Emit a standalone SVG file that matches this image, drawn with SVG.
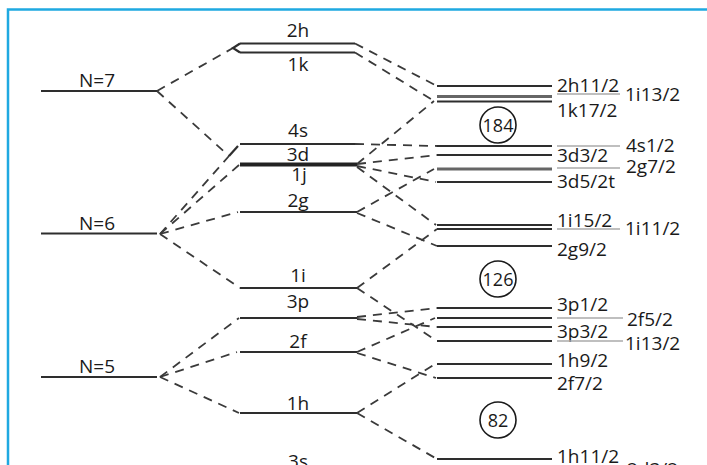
<svg xmlns="http://www.w3.org/2000/svg" width="707" height="465" viewBox="0 0 707 465">
<style>
  .lv{stroke:#2e2e2e;stroke-width:2.2;fill:none}
  .lvt{stroke:#222;stroke-width:3.8;fill:none}
  .lvg{stroke:#666;stroke-width:2.8;fill:none}
  .gr{stroke:#aaa;stroke-width:1.6;fill:none}
  .dash{stroke:#3a3a3a;stroke-width:1.8;stroke-dasharray:9 7;fill:none}
  text{font-family:"Open Sans","Liberation Sans",sans-serif;font-size:19px;fill:#1a1a1a}
  .c{text-anchor:middle}
  .circ{fill:none;stroke:#1a1a1a;stroke-width:1.6}
  .ct{font-size:18px;text-anchor:middle}
</style>
<rect x="0" y="0" width="707" height="465" fill="#fff"/>
<rect x="8" y="9.5" width="720" height="500" fill="none" stroke="#1fa9e1" stroke-width="2.5"/>

<g id="connectors">
  <path class="dash" d="M157,91 L233,48"/>
  <path class="dash" d="M157,91 L229,156"/>
  <path class="lv" d="M229,156 L238,146"/>
  <path class="dash" d="M160,234 L229,156"/>
  <path class="dash" d="M160,234 L239,165"/>
  <path class="dash" d="M160,234 L238,212"/>
  <path class="dash" d="M160,234 L240,288"/>
  <path class="dash" d="M160,377 L239,318"/>
  <path class="dash" d="M160,377 L237,352"/>
  <path class="dash" d="M160,377 L239,413"/>
  <path class="dash" d="M355,43.5 L437,86"/>
  <path class="dash" d="M355,52.5 L434,101"/>
  <path class="dash" d="M357,164 L434,101"/>
  <path class="dash" d="M355,144 L437,146"/>
  <path class="dash" d="M357,164 L437,155"/>
  <path class="dash" d="M357,166 L436,182"/>
  <path class="dash" d="M357,167 L436,225"/>
  <path class="dash" d="M357,212 L434,169"/>
  <path class="dash" d="M357,213 L437,246"/>
  <path class="dash" d="M357,288 L437,229"/>
  <path class="dash" d="M357,288 L437,341"/>
  <path class="dash" d="M357,317 L437,308"/>
  <path class="dash" d="M357,319 L437,327"/>
  <path class="dash" d="M357,352 L435,318"/>
  <path class="dash" d="M357,353 L436,378"/>
  <path class="dash" d="M357,413 L435,364"/>
  <path class="dash" d="M357,413 L437,459"/>
</g>

<g id="N7"><path class="lv" d="M41,91 H157"/><text class="c" x="97" y="87">N=7</text></g>
<g id="N6"><path class="lv" d="M41,233.5 H157"/><text class="c" x="97" y="230">N=6</text></g>
<g id="N5"><path class="lv" d="M41,377 H157"/><text class="c" x="97" y="373">N=5</text></g>

<g id="m2h"><path class="lv" d="M240,43.5 H355"/><path class="lv" d="M240,43.5 L233,48 L240,52.5"/><text class="c" x="298" y="37">2h</text></g>
<g id="m1k"><path class="lv" d="M240,52.5 H355"/><text class="c" x="298" y="71">1k</text></g>
<g id="m4s"><path class="lv" d="M240,144 H355"/><text class="c" x="298" y="137">4s</text></g>
<g id="m3d"><path class="lvt" d="M240,164.5 H357"/><text class="c" x="298" y="161">3d</text></g>
<g id="m1j"><text class="c" x="299" y="181">1j</text></g>
<g id="m2g"><path class="lv" d="M240,212 H357"/><text class="c" x="298" y="207">2g</text></g>
<g id="m1i"><path class="lv" d="M240,288 H357"/><text class="c" x="298" y="282">1i</text></g>
<g id="m3p"><path class="lv" d="M240,318 H357"/><text class="c" x="298" y="308">3p</text></g>
<g id="m2f"><path class="lv" d="M240,352 H357"/><text class="c" x="298" y="348">2f</text></g>
<g id="m1h"><path class="lv" d="M240,413 H357"/><text class="c" x="298" y="410">1h</text></g>
<g id="m3s"><text class="c" x="298" y="468">3s</text></g>

<g id="r2h11"><path class="lv" d="M437,86 H552"/><text x="557" y="92">2h11/2</text></g>
<g id="r1i13a"><path class="lvg" d="M437,96.5 H552"/><path class="gr" d="M557,94 H620"/><text x="625" y="101">1i13/2</text></g>
<g id="r1k17"><path class="lv" d="M437,101.5 H552"/><text x="557" y="117">1k17/2</text></g>
<g id="s184"><circle class="circ" cx="498" cy="125" r="18"/><text class="ct" x="498" y="131.5">184</text></g>
<g id="r4s1"><path class="lv" d="M437,146 H552"/><path class="gr" d="M557,146 H620"/><text x="626" y="152">4s1/2</text></g>
<g id="r3d3"><path class="lv" d="M437,155 H552"/><text x="557" y="162">3d3/2</text></g>
<g id="r2g7"><path class="lvg" d="M437,169 H552"/><path class="gr" d="M557,168 H620"/><text x="626" y="173">2g7/2</text></g>
<g id="r3d5"><path class="lv" d="M437,182 H552"/><text x="557" y="188">3d5/2t</text></g>
<g id="r1i15"><path class="lv" d="M437,225 H552"/><text x="557" y="227">1i15/2</text></g>
<g id="r1i11"><path class="lv" d="M437,229 H552"/><path class="gr" d="M557,229 H620"/><text x="625" y="235">1i11/2</text></g>
<g id="r2g9"><path class="lv" d="M437,246 H552"/><text x="557" y="256">2g9/2</text></g>
<g id="s126"><circle class="circ" cx="498" cy="279" r="18"/><text class="ct" x="498" y="285.5">126</text></g>
<g id="r3p1"><path class="lv" d="M437,308 H552"/><text x="557" y="311">3p1/2</text></g>
<g id="r2f5"><path class="lv" d="M437,318 H552"/><path class="gr" d="M557,318 H623"/><text x="627" y="326">2f5/2</text></g>
<g id="r3p3"><path class="lv" d="M437,327 H552"/><text x="557" y="338">3p3/2</text></g>
<g id="r1i13b"><path class="lv" d="M437,341 H552"/><path class="gr" d="M557,341 H623"/><text x="625" y="350">1i13/2</text></g>
<g id="r1h9"><path class="lv" d="M437,364 H552"/><text x="557" y="367">1h9/2</text></g>
<g id="r2f7"><path class="lv" d="M437,378 H552"/><text x="557" y="390">2f7/2</text></g>
<g id="s82"><circle class="circ" cx="498" cy="420" r="18"/><text class="ct" x="498" y="426.5">82</text></g>
<g id="r1h11"><path class="lv" d="M437,459 H552"/><text x="557" y="463">1h11/2</text></g>
<g id="r2d3"><text x="627" y="476">2d3/2</text></g>
</svg>
